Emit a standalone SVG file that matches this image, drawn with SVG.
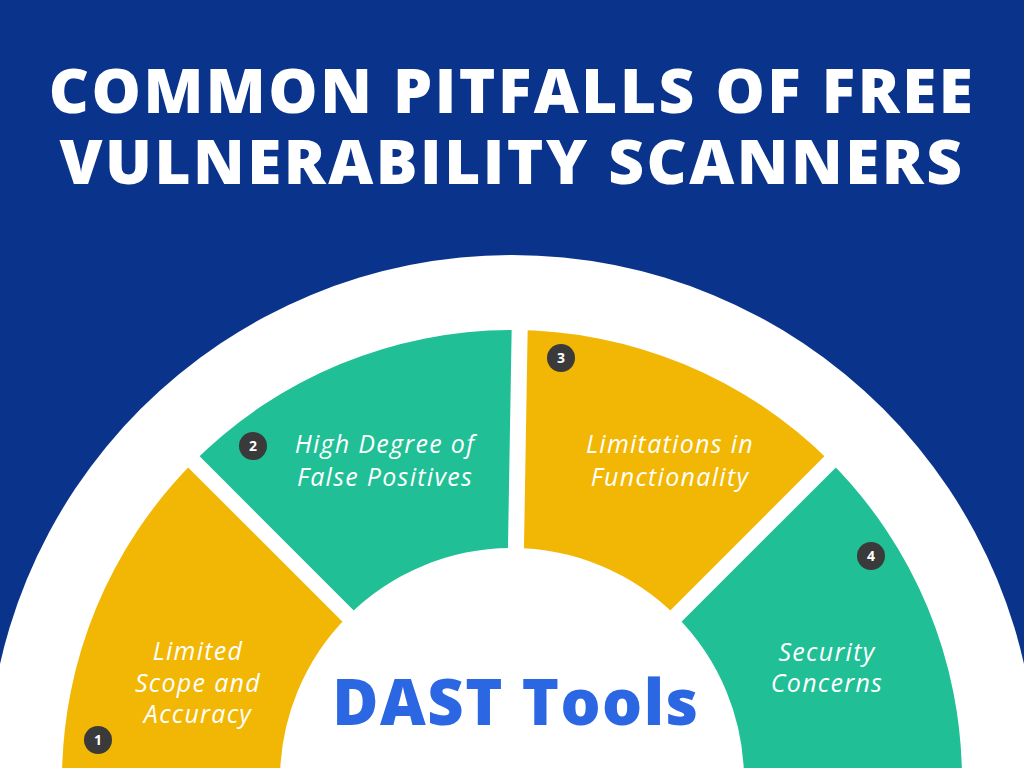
<svg xmlns="http://www.w3.org/2000/svg" width="1024" height="768" viewBox="0 0 1024 768">
<style>
.t{font-family:"Open Sans","Liberation Sans",sans-serif;font-weight:800;font-size:62px;letter-spacing:2.5px;fill:#fff;text-anchor:middle}
.l{font-family:"Open Sans","Liberation Sans",sans-serif;font-style:italic;font-size:25px;letter-spacing:1.3px;fill:#fff;text-anchor:middle}
.n{font-family:"Open Sans","Liberation Sans",sans-serif;font-weight:700;font-size:14px;fill:#fff;text-anchor:middle}
.y{fill:#f2b705}.g{fill:#20bf95}.b{fill:#3a3a3a}
</style>
<rect width="1024" height="768" fill="#0a338c"/>
<text class="t" x="512" y="113">COMMON PITFALLS OF FREE</text>
<text class="t" x="512" y="184">VULNERABILITY SCANNERS</text>
<circle cx="512" cy="780" r="525" fill="#fff"/>
<g id="seg1"><path class="y" d="M62 780 A450 450 0 0 1 193.8 461.8 L347.9 615.9 A232 232 0 0 0 280 780 Z"/>
<text class="l" x="198" y="660">Limited</text><text class="l" x="198" y="692">Scope and</text><text class="l" x="198" y="723">Accuracy</text>
<circle class="b" cx="98" cy="740" r="14"/><text class="n" x="98" y="745">1</text></g>
<g id="seg2"><path class="g" d="M193.8 461.8 A450 450 0 0 1 512 330 L512 548 A232 232 0 0 0 347.9 615.9 Z"/>
<text class="l" x="385" y="453">High Degree of</text><text class="l" x="385" y="486">False Positives</text>
<circle class="b" cx="253" cy="446" r="14"/><text class="n" x="253" y="451">2</text></g>
<g id="seg3"><path class="y" d="M512 330 A450 450 0 0 1 830.2 461.8 L676.1 615.9 A232 232 0 0 0 512 548 Z"/>
<text class="l" x="670" y="453">Limitations in</text><text class="l" x="670" y="486">Functionality</text>
<circle class="b" cx="561" cy="358" r="14"/><text class="n" x="561" y="363">3</text></g>
<g id="seg4"><path class="g" d="M830.2 461.8 A450 450 0 0 1 962 780 L744 780 A232 232 0 0 0 676.1 615.9 Z"/>
<text class="l" x="827" y="661">Security</text><text class="l" x="827" y="692">Concerns</text>
<circle class="b" cx="871" cy="556" r="14"/><text class="n" x="871" y="561">4</text></g>
<g id="gaps" stroke="#fff" stroke-width="16">
<line x1="512" y1="780" x2="180" y2="448"/>
<line x1="512" y1="780" x2="520" y2="310"/>
<line x1="512" y1="780" x2="845" y2="447"/>
</g>
<text x="516" y="725" font-family="Open Sans, Liberation Sans, sans-serif" font-weight="800" font-size="63" letter-spacing="1.5" fill="#2b66e3" text-anchor="middle">DAST Tools</text>
</svg>
